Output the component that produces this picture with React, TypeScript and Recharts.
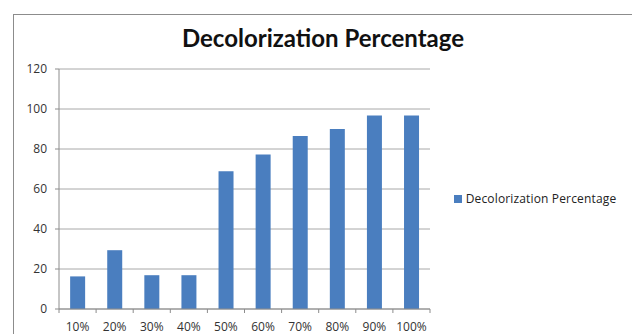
import React from 'react';
import { BarChart, Bar, XAxis, YAxis, CartesianGrid, Legend } from 'recharts';

const categories = ['10%', '20%', '30%', '40%', '50%', '60%', '70%', '80%', '90%', '100%'];
const decolorization = [16.3, 29.4, 16.9, 16.9, 68.9, 77.2, 86.5, 90, 96.8, 96.8];
const yTicks = [0, 20, 40, 60, 80, 100, 120];

const data = categories.map((c, i) => ({ name: c, value: decolorization[i] }));

const FONT = '"Open Sans", "DejaVu Sans", sans-serif';
const BAR_COLOR = '#4a7ebf';
const AXIS = '#8c8c8c';

// Excel style: tick marks sit between categories, labels under the centre
function CategoryTick(props: any) {
  const { x, y, payload, index } = props;
  const half = payload && payload.offset ? payload.offset : 0;
  const top = y - 8;
  return (
    <g>
      <line x1={x - half} x2={x - half} y1={top} y2={top + 4} stroke={AXIS} />
      {index === categories.length - 1 && (
        <line x1={x + half} x2={x + half} y1={top} y2={top + 4} stroke={AXIS} />
      )}
      <text x={x} y={y + 14} textAnchor="middle" fill="#333" fontSize={12} fontFamily={FONT}>
        {payload.value}
      </text>
    </g>
  );
}

export default function App() {
  return (
    <div
      style={{
        position: 'fixed',
        left: 0,
        top: 0,
        width: 632,
        height: 334,
        background: '#fff',
        overflow: 'hidden',
        fontFamily: FONT,
      }}
    >
      <div
        style={{
          position: 'absolute',
          left: 13,
          top: 14,
          width: 640,
          height: 340,
          border: '1px solid #8c8c8c',
        }}
      />
      <div
        style={{
          position: 'absolute',
          left: 0,
          top: 23,
          width: 646,
          textAlign: 'center',
          fontFamily: 'Lato, sans-serif',
          fontWeight: 700,
          fontSize: 24,
          color: '#111',
        }}
      >
        Decolorization Percentage
      </div>
      <div style={{ position: 'absolute', left: 0, top: 0 }}>
        <BarChart
          width={632}
          height={334}
          data={data}
          margin={{ top: 69, right: 202, left: 0, bottom: 0 }}
          barCategoryGap="30%"
        >
          <CartesianGrid vertical={false} stroke="#a8a8a8" />
          <XAxis
            dataKey="name"
            height={25}
            axisLine={{ stroke: AXIS }}
            tickLine={false}
            tickMargin={2}
            tick={<CategoryTick />}
            interval={0}
          />
          <YAxis
            width={59}
            domain={[0, 120]}
            ticks={yTicks}
            axisLine={{ stroke: AXIS }}
            tickLine={{ stroke: AXIS }}
            tickSize={4}
            tickMargin={8}
            tick={{ fill: '#333', fontSize: 12, fontFamily: FONT }}
          />
          <Legend
            layout="horizontal"
            align="center"
            verticalAlign="middle"
            iconType="square"
            iconSize={8}
            wrapperStyle={{ left: 450, top: 186, width: 180, height: 20, textAlign: 'left' }}
            formatter={() => (
              <span style={{ color: '#222', fontSize: 12, letterSpacing: 0.15, fontFamily: FONT }}>
                Decolorization Percentage
              </span>
            )}
          />
          <Bar dataKey="value" fill={BAR_COLOR} isAnimationActive={false} />
        </BarChart>
      </div>
    </div>
  );
}
